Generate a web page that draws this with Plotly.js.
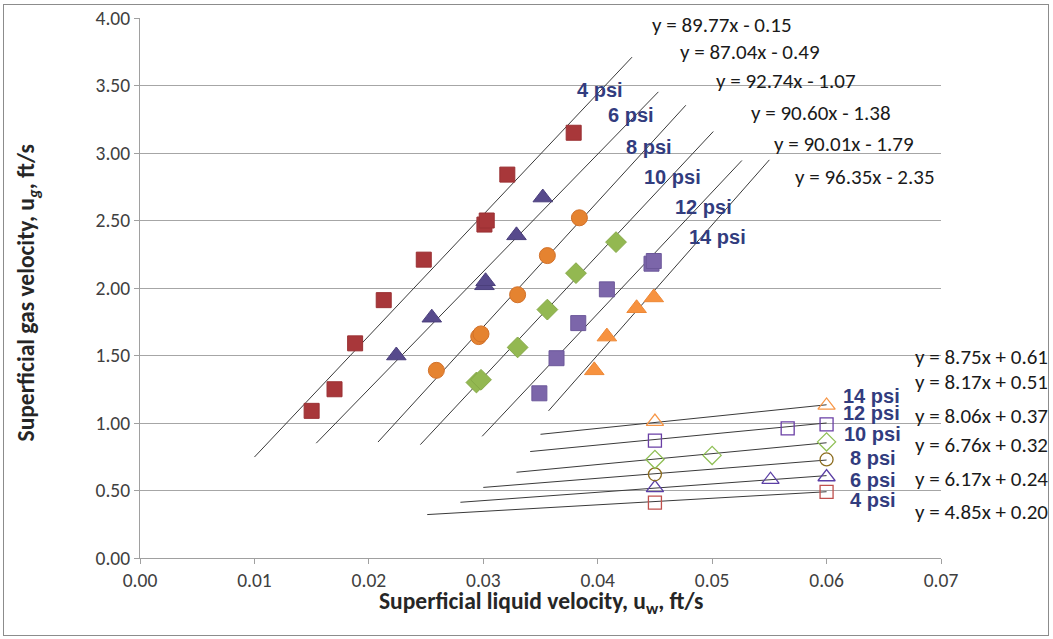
<!DOCTYPE html>
<html>
<head>
<meta charset="utf-8">
<script src="https://cdn.plot.ly/plotly-3.0.1.min.js"></script>
<style>
  html, body { margin: 0; padding: 0; background: #fff; }
  #wrap { position: relative; width: 1053px; height: 639px; }
  #chart { position: absolute; left: 0; top: 0; width: 1053px; height: 639px; }
  #frame { position: absolute; left: 3px; top: 4px; width: 1044px; height: 630px;
           border: 1px solid #8c8c8c; pointer-events: none; }
</style>
</head>
<body>
<div id="wrap">
  <div id="chart"></div>
  <div id="frame"></div>
</div>
<script>
// Pressure groups
const pressures = ['4 psi', '6 psi', '8 psi', '10 psi', '12 psi', '14 psi'];

// High-gas-rate measurements (filled markers)
const hiX4  = [0.0150, 0.0170, 0.0188, 0.0213, 0.0248, 0.0301, 0.0303, 0.0321, 0.0379];
const hiY4  = [1.09, 1.25, 1.59, 1.91, 2.21, 2.47, 2.50, 2.84, 3.15];
const hiX6  = [0.0224, 0.0255, 0.0301, 0.0302, 0.0329, 0.0352];
const hiY6  = [1.50, 1.78, 2.02, 2.05, 2.39, 2.67];
const hiX8  = [0.0259, 0.0296, 0.0298, 0.0330, 0.0356, 0.0384];
const hiY8  = [1.39, 1.64, 1.66, 1.95, 2.24, 2.52];
const hiX10 = [0.0294, 0.0298, 0.0330, 0.0356, 0.0381, 0.0416];
const hiY10 = [1.30, 1.32, 1.56, 1.84, 2.11, 2.34];
const hiX12 = [0.0349, 0.0364, 0.0383, 0.0408, 0.0447, 0.0449];
const hiY12 = [1.22, 1.48, 1.74, 1.99, 2.18, 2.20];
const hiX14 = [0.0397, 0.0408, 0.0434, 0.0449];
const hiY14 = [1.39, 1.64, 1.85, 1.93];

// Low-gas-rate measurements (open markers)
const loX4  = [0.045, 0.060];
const loY4  = [0.41, 0.49];
const loX6  = [0.045, 0.0551, 0.060];
const loY6  = [0.52, 0.58, 0.60];
const loX8  = [0.045, 0.060];
const loY8  = [0.62, 0.73];
const loX10 = [0.045, 0.050, 0.060];
const loY10 = [0.73, 0.76, 0.86];
const loX12 = [0.045, 0.0566, 0.060];
const loY12 = [0.87, 0.96, 0.99];
const loX14 = [0.045, 0.060];
const loY14 = [1.01, 1.13];

// Linear fits, y = m x + b
const hiSlope     = [89.77, 87.04, 92.74, 90.60, 90.01, 96.35];
const hiIntercept = [-0.15, -0.49, -1.07, -1.38, -1.79, -2.35];
const hiFitFrom   = [0.0100, 0.0154, 0.0208, 0.0245, 0.0299, 0.0357];
const hiFitTo     = [0.0430, 0.0453, 0.0477, 0.0501, 0.0526, 0.0550];

const loSlope     = [4.85, 6.17, 6.76, 8.06, 8.17, 8.75];
const loIntercept = [0.20, 0.24, 0.32, 0.37, 0.51, 0.61];
const loFitFrom   = [0.0251, 0.0280, 0.0300, 0.0329, 0.0341, 0.0350];
const loFitTo     = [0.060, 0.060, 0.060, 0.060, 0.060, 0.060];

// Axis ticks and titles
const xTicks = [0.00, 0.01, 0.02, 0.03, 0.04, 0.05, 0.06, 0.07];
const yTicks = [0.00, 0.50, 1.00, 1.50, 2.00, 2.50, 3.00, 3.50, 4.00];
const xTitle = 'Superficial liquid velocity, u<sub>w</sub>, ft/s';
const yTitle = 'Superficial gas velocity, u<sub><i>g</i></sub>, ft/s';

const hiX = [hiX4, hiX6, hiX8, hiX10, hiX12, hiX14];
const hiY = [hiY4, hiY6, hiY8, hiY10, hiY12, hiY14];
const loX = [loX4, loX6, loX8, loX10, loX12, loX14];
const loY = [loY4, loY6, loY8, loY10, loY12, loY14];

const hiStyle = [
  {symbol: 'square',        color: '#a8373a', line: '#9a3033', size: 15},
  {symbol: 'triangle-up',   color: '#574a8c', line: '#4b3f7c', size: 17},
  {symbol: 'circle',        color: '#e58330', line: '#d2712a', size: 16},
  {symbol: 'diamond',       color: '#93b851', line: '#86a948', size: 16},
  {symbol: 'square',        color: '#7c66aa', line: '#6c589a', size: 15},
  {symbol: 'triangle-up',   color: '#f7923f', line: '#ee8836', size: 17}
];
const loStyle = [
  {symbol: 'square-open',      color: '#c0504d', size: 13},
  {symbol: 'triangle-up-open', color: '#5b3fa5', size: 15},
  {symbol: 'circle-open',      color: '#8c6d1f', size: 13},
  {symbol: 'diamond-open',     color: '#8fbf55', size: 14},
  {symbol: 'square-open',      color: '#6a3fa5', size: 13},
  {symbol: 'triangle-up-open', color: '#f79646', size: 15}
];

const traces = [];
for (let i = 0; i < pressures.length; i++) {
  // fitted lines first so markers sit on top
  traces.push({
    x: [hiFitFrom[i], hiFitTo[i]],
    y: [hiSlope[i] * hiFitFrom[i] + hiIntercept[i], hiSlope[i] * hiFitTo[i] + hiIntercept[i]],
    mode: 'lines', type: 'scatter', showlegend: false, hoverinfo: 'skip',
    line: {color: '#3a3a3a', width: 1}
  });
  traces.push({
    x: [loFitFrom[i], loFitTo[i]],
    y: [loSlope[i] * loFitFrom[i] + loIntercept[i], loSlope[i] * loFitTo[i] + loIntercept[i]],
    mode: 'lines', type: 'scatter', showlegend: false, hoverinfo: 'skip',
    line: {color: '#3a3a3a', width: 1}
  });
}
for (let i = 0; i < pressures.length; i++) {
  const s = hiStyle[i];
  traces.push({
    x: hiX[i], y: hiY[i], name: pressures[i], mode: 'markers', type: 'scatter', showlegend: false,
    marker: {symbol: s.symbol, size: s.size, color: s.color, line: {color: s.line, width: 1}}
  });
  const o = loStyle[i];
  traces.push({
    x: loX[i], y: loY[i], name: pressures[i], mode: 'markers', type: 'scatter', showlegend: false,
    marker: {symbol: o.symbol, size: o.size, color: o.color, line: {color: o.color, width: 1.3}}
  });
}

const labelFont = {family: 'Liberation Sans, Arial, sans-serif', size: 20, color: '#323c7e'};
const eqFont = {family: 'Carlito, Lato, sans-serif', size: 21, color: '#1a1a1a'};
const tickFont = {family: 'Carlito, Lato, sans-serif', size: 19.5, color: '#404040'};
const titleFont = {family: 'Carlito, Lato, sans-serif', size: 23.5, color: '#262626', weight: 'bold'};

function ann(x, y, text, font) {
  return {x: x, y: y, xref: 'x', yref: 'y', text: text, showarrow: false,
          xanchor: 'left', yanchor: 'middle', font: font};
}

// Group labels next to the steep fits
const hiLabelPos = [[0.03802, 3.467], [0.04073, 3.281], [0.04231, 3.044],
                    [0.04388, 2.822], [0.04659, 2.600], [0.04781, 2.378]];
// Equations for the steep fits
const hiEqPos = [[0.04458, 3.948], [0.04703, 3.748], [0.05017, 3.533],
                 [0.05323, 3.296], [0.05524, 3.067], [0.05708, 2.822]];
// Group labels and equations for the shallow fits
const loLabelPos = [[0.06189, 0.430], [0.06189, 0.578], [0.06189, 0.741],
                    [0.06136, 0.919], [0.06128, 1.074], [0.06128, 1.200]];
const loEqY = [0.341, 0.585, 0.837, 1.052, 1.304, 1.489];

function fmtEq(m, b) {
  const sign = b < 0 ? ' - ' : ' + ';
  return 'y = ' + m.toFixed(2) + 'x' + sign + Math.abs(b).toFixed(2);
}

const annotations = [];
for (let i = 0; i < pressures.length; i++) {
  annotations.push(ann(hiLabelPos[i][0], hiLabelPos[i][1], '<b>' + pressures[i] + '</b>', labelFont));
  annotations.push(ann(hiEqPos[i][0], hiEqPos[i][1], fmtEq(hiSlope[i], hiIntercept[i]), eqFont));
  annotations.push(ann(loLabelPos[i][0], loLabelPos[i][1], '<b>' + pressures[i] + '</b>', labelFont));
  annotations.push(ann(0.06757, loEqY[i], fmtEq(loSlope[i], loIntercept[i]), eqFont));
}
// Axis titles, placed in paper space
annotations.push({xref: 'paper', yref: 'paper', x: 0.5, y: -0.083, text: xTitle,
                  showarrow: false, xanchor: 'center', yanchor: 'middle', font: titleFont});
annotations.push({xref: 'paper', yref: 'paper', x: -0.141, y: 0.49, text: yTitle, textangle: -90,
                  showarrow: false, xanchor: 'center', yanchor: 'middle', font: titleFont});

const layout = {
  width: 1053, height: 639,
  margin: {l: 140, r: 112, t: 18, b: 81},
  paper_bgcolor: '#ffffff', plot_bgcolor: '#ffffff',
  showlegend: false,
  xaxis: {
    range: [0, 0.07], tickvals: xTicks, tickformat: '.2f',
    showgrid: false, zeroline: false,
    showline: true, linecolor: '#a0a0a0', linewidth: 1,
    ticks: 'outside', ticklen: 5, tickcolor: '#a0a0a0',
    tickfont: tickFont
  },
  yaxis: {
    range: [0, 4], tickvals: yTicks, tickformat: '.2f',
    showgrid: true, gridcolor: '#a6a6a6', gridwidth: 1, zeroline: false,
    showline: true, linecolor: '#a0a0a0', linewidth: 1,
    ticks: 'outside', ticklen: 5, tickcolor: '#a0a0a0',
    tickfont: tickFont
  },
  annotations: annotations
};

Plotly.newPlot('chart', traces, layout, {staticPlot: true, displayModeBar: false});
</script>
</body>
</html>
